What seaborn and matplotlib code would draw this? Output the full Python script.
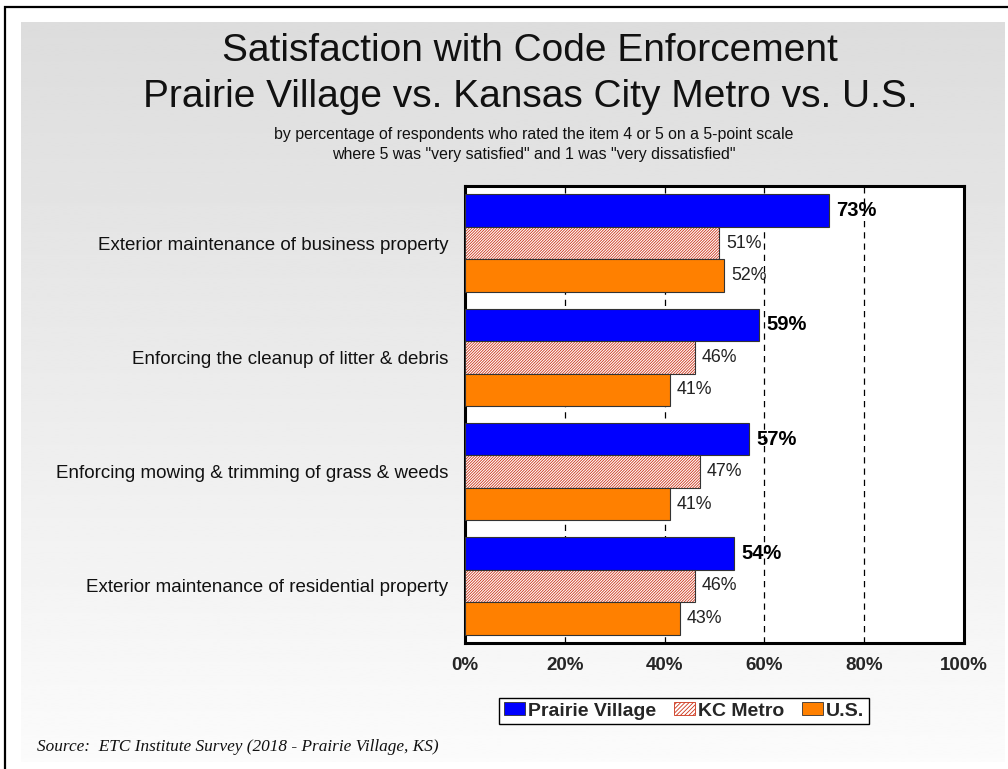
import numpy as np
import pandas as pd
import matplotlib
matplotlib.use("Agg")
import matplotlib.pyplot as plt
from matplotlib.patches import Patch
from matplotlib.colors import to_rgba
import seaborn as sns

# Survey results (percent satisfied)
items = [
    "Exterior maintenance of business property",
    "Enforcing the cleanup of litter & debris",
    "Enforcing mowing & trimming of grass & weeds",
    "Exterior maintenance of residential property",
]
areas = ["Prairie Village", "KC Metro", "U.S."]
prairie_village = [73, 59, 57, 54]
kc_metro = [51, 46, 47, 46]
us = [52, 41, 41, 43]
x_ticks = [0, 20, 40, 60, 80, 100]
x_tick_labels = ["0%", "20%", "40%", "60%", "80%", "100%"]

df = pd.DataFrame({
    "item": items * 3,
    "area": [a for a in areas for _ in items],
    "value": prairie_village + kc_metro + us,
})

W, H = 1008, 769
sns.set_theme(style="white")
plt.rcParams["font.family"] = ["Liberation Sans", "DejaVu Sans"]
plt.rcParams["hatch.linewidth"] = 0.6

fig = plt.figure(figsize=(W / 100, H / 100), dpi=100)

# Background: outer frame lines and soft grey gradient panel
bg = fig.add_axes([0, 0, 1, 1], zorder=-10)
bg.set_xlim(0, W)
bg.set_ylim(H, 0)
bg.axis("off")
grad = np.linspace(0.865, 0.985, 256).reshape(-1, 1)
bg.imshow(grad, cmap="gray", vmin=0, vmax=1, extent=[21, 1005, 762, 22],
          aspect="auto", interpolation="bilinear")
bg.plot([5, 5, W], [H, 7, 7], color="black", lw=1.6, solid_joinstyle="miter")

ax = fig.add_axes([465 / W, 1 - 643 / H, (964 - 465) / W, (643 - 186) / H])
palette = {"Prairie Village": "#0000FF", "KC Metro": "#FFFFFF", "U.S.": "#FF8000"}
sns.barplot(data=df, y="item", x="value", hue="area", orient="h",
            palette=palette, saturation=1, width=0.855, ax=ax,
            edgecolor="#333333", linewidth=0.8, legend=False, zorder=3)

hatch_red = "#cc3318"
for bar in ax.containers[1]:
    bar.set_hatch("////////////")
    bar._hatch_color = to_rgba(hatch_red)

# Value labels
for i, cont in enumerate(ax.containers):
    vals = [prairie_village, kc_metro, us][i]
    if i == 0:
        ax.bar_label(cont, labels=[f"{v}%" for v in vals], padding=5,
                     fontsize=14.5, fontweight="bold", color="black")
    else:
        ax.bar_label(cont, labels=[f"{v}%" for v in vals], padding=5,
                     fontsize=12.8, color="#222222")

ax.set_xlim(0, 100)
ax.set_ylim(3.5, -0.5)
ax.set_xticks(x_ticks)
ax.set_xticklabels(x_tick_labels, fontsize=13.5, fontweight="bold")
ax.set_xlabel("")
ax.set_ylabel("")
ax.tick_params(axis="x", length=0, pad=10)
ax.tick_params(axis="y", length=0, pad=12, labelsize=13.5)
for t in ax.get_yticklabels():
    t.set_color("#111111")
ax.set_facecolor("white")
ax.set_axisbelow(True)
ax.xaxis.grid(True, color="black", lw=0.9, linestyle=(0, (5, 4)))
ax.yaxis.grid(False)
for s in ax.spines.values():
    s.set_visible(True)
    s.set_color("black")
    s.set_linewidth(2.2)

# Titles
fig.text(530 / W, 1 - 51 / H, "Satisfaction with Code Enforcement",
         ha="center", va="center", fontsize=28, color="#111111")
fig.text(530 / W, 1 - 97 / H, "Prairie Village vs. Kansas City Metro vs. U.S.",
         ha="center", va="center", fontsize=28, color="#111111")
fig.text(534 / W, 1 - 135 / H,
         "by percentage of respondents who rated the item 4 or 5 on a 5-point scale",
         ha="center", va="center", fontsize=11.4, color="#111111")
fig.text(534 / W, 1 - 154 / H,
         "where 5 was \"very satisfied\" and 1 was \"very dissatisfied\"",
         ha="center", va="center", fontsize=11.4, color="#111111")

# Legend
handles = [
    Patch(facecolor="#0000FF", edgecolor="#333333", lw=0.6),
    Patch(facecolor="white", edgecolor=hatch_red, hatch="////////", lw=0.6),
    Patch(facecolor="#FF8000", edgecolor="#333333", lw=0.6),
]
leg = fig.legend(handles, areas, loc="center", ncol=3,
                 bbox_to_anchor=(684 / W, 1 - 711 / H),
                 prop={"weight": "bold", "size": 14},
                 frameon=True, fancybox=False, framealpha=1,
                 edgecolor="black", handlelength=1.1, handleheight=0.6,
                 handletextpad=0.15, columnspacing=0.9, borderpad=0.25,
                 borderaxespad=0)
leg.get_frame().set_linewidth(1.0)
leg.get_frame().set_facecolor("white")

fig.text(37 / W, 1 - 747 / H,
         "Source:  ETC Institute Survey (2018 - Prairie Village, KS)",
         ha="left", va="center", fontsize=12.4, style="italic",
         family=["Liberation Serif", "DejaVu Serif"], color="#111111")

fig.savefig("out.png", dpi=100)
